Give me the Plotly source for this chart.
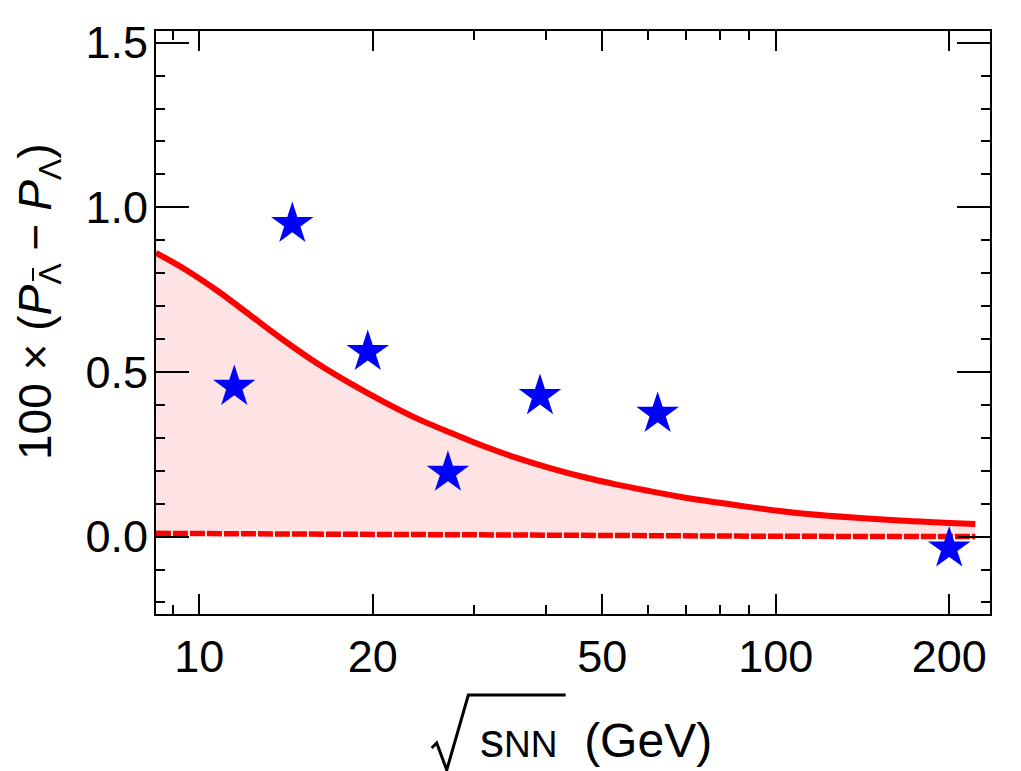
import plotly.graph_objects as go

# ---- data ----
energy = [11.5, 14.5, 19.6, 27.0, 39.0, 62.4, 200.0]
dP = [0.455, 0.950, 0.561, 0.194, 0.427, 0.373, -0.036]

curve_x = [8.41, 9.38, 10.72, 12.24, 13.99, 15.98, 18.25, 20.86, 23.84, 27.23,
           31.1, 35.54, 40.6, 46.4, 53.0, 59.7, 68.2, 86.7, 110.0, 164.0, 222.0]
curve_y = [0.862, 0.815, 0.748, 0.673, 0.597, 0.527, 0.466, 0.410, 0.359, 0.316,
           0.275, 0.239, 0.208, 0.181, 0.158, 0.140, 0.121, 0.094, 0.071, 0.049, 0.038]

base_x = [8.41, 15.0, 30.0, 60.0, 100.0, 222.0]
base_y = [0.010, 0.007, 0.004, 0.002, 0.001, 0.000]

x_ticks = [10, 20, 50, 100, 200]
x_minor = [9, 30, 40, 60, 70, 80, 90]
y_ticks = [0.0, 0.5, 1.0, 1.5]
y_tick_text = ["0.0", "0.5", "1.0", "1.5"]
y_minor = [-0.2, -0.1, 0.1, 0.2, 0.3, 0.4, 0.6, 0.7, 0.8, 0.9, 1.1, 1.2, 1.3, 1.4]

# ---- layout geometry ----
W, H = 1021, 771
L, R, T, B = 156, 31, 31, 157
PW, PH = W - L - R, H - T - B


def px(xp):
    return (xp - L) / PW


def py(yp):
    return (H - B - yp) / PH


FONT = "Arial, Liberation Sans, sans-serif"

fig = go.Figure()
fig.add_trace(go.Scatter(
    x=base_x, y=base_y, mode="lines",
    line=dict(color="#ff0000", width=5.5, dash="15px,2px"),
    showlegend=False, hoverinfo="skip"))
fig.add_trace(go.Scatter(
    x=curve_x, y=curve_y, mode="lines",
    line=dict(color="#ff0000", width=6, shape="spline", smoothing=0.8),
    fill="tonexty", fillcolor="#fde3e3",
    showlegend=False, hoverinfo="skip"))
fig.add_trace(go.Scatter(
    x=energy, y=dP, mode="markers",
    marker=dict(symbol="star", size=32, color="#0000ff", line=dict(width=0)),
    showlegend=False))

fig.update_layout(
    width=W, height=H, autosize=False,
    margin=dict(l=L, r=R, t=T, b=B),
    plot_bgcolor="white", paper_bgcolor="white",
    font=dict(family=FONT, size=45, color="black"),
    xaxis=dict(
        type="log", range=[0.9249, 2.3718],
        tickmode="array", tickvals=x_ticks, ticktext=[str(v) for v in x_ticks],
        ticks="inside", ticklen=20, tickwidth=2, tickcolor="black",
        minor=dict(tickmode="array", tickvals=x_minor, ticks="inside",
                   ticklen=9, tickwidth=2, tickcolor="black", showgrid=False),
        showline=True, linewidth=2, linecolor="black", mirror="allticks",
        showgrid=False, zeroline=False,
        tickfont=dict(size=45), ticklabelstandoff=2),
    yaxis=dict(
        range=[-0.235, 1.5355],
        tickmode="array", tickvals=y_ticks, ticktext=y_tick_text,
        ticks="inside", ticklen=33, tickwidth=2, tickcolor="black",
        minor=dict(tickmode="array", tickvals=y_minor,
                   ticks="inside", ticklen=9, tickwidth=2, tickcolor="black",
                   showgrid=False),
        showline=True, linewidth=2, linecolor="black", mirror="allticks",
        showgrid=False, zeroline=False,
        tickfont=dict(size=45), ticklabelstandoff=-3),
)

# y-axis title (bar over the first subscript Lambda drawn as a short line)
fig.add_annotation(
    xref="paper", yref="paper", x=px(38), y=py(302),
    text="100 × (<i>P</i><sub>Λ</sub> − <i>P</i><sub>Λ</sub>)",
    textangle=-90, showarrow=False, xanchor="center", yanchor="middle",
    font=dict(family=FONT, size=46, color="black"))
fig.add_shape(type="line", xref="paper", yref="paper",
              x0=px(33), x1=px(33), y0=py(268), y1=py(281),
              line=dict(color="black", width=2))

# x-axis title text (radical drawn as path below)
fig.add_annotation(
    xref="paper", yref="paper", x=px(478), y=py(740),
    text="s<span style='font-size:37px'>NN</span>\u00a0\u00a0(GeV)",
    showarrow=False, xanchor="left", yanchor="middle",
    font=dict(family=FONT, size=48, color="black"))

rad = [(431.7, 748), (436.7, 743), (446.7, 770), (468.3, 695), (565.7, 695)]
path = "M " + " L ".join(f"{px(a):.4f},{py(b):.4f}" for a, b in rad)
fig.add_shape(type="path", xref="paper", yref="paper", path=path,
              line=dict(color="black", width=3))

fig.write_html("out.html")
